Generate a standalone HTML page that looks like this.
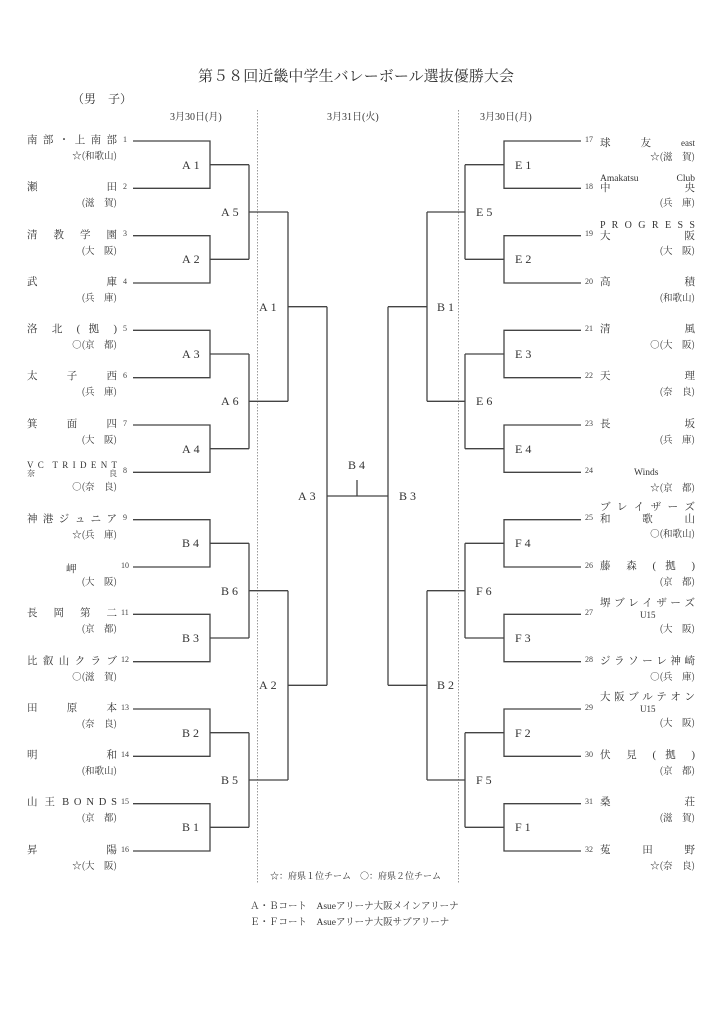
<!DOCTYPE html>
<html><head><meta charset="utf-8">
<style>
body{margin:0;background:#fff;}
#p{position:relative;width:724px;height:1024px;overflow:hidden;background:#fff;font-family:"Liberation Serif","Noto Serif CJK SC",serif;color:#333;}
.a{position:absolute;white-space:nowrap;}
.n{position:absolute;font-size:10.5px;line-height:12px;text-align:justify;text-align-last:justify;color:#333;}
.L{left:27px;width:90px;}
.R{left:600px;width:95px;}
.f{position:absolute;font-size:9.5px;line-height:12px;text-align:right;white-space:nowrap;color:#333;font-family:"Noto Serif CJK SC",serif;}
.fL{left:27px;width:90px;}
.fR{left:600px;width:95px;}
.num{position:absolute;font-size:8px;line-height:9px;color:#444;}
.lb{position:absolute;font-size:12px;line-height:14px;white-space:nowrap;color:#333;letter-spacing:3px;}
</style></head><body><div id="p">
<svg width="724" height="1024" style="position:absolute;left:0;top:0">
<g stroke="#999" stroke-width="1" stroke-dasharray="1.5,1.5"><line x1="257.5" y1="110" x2="257.5" y2="884"/><line x1="458.5" y1="110" x2="458.5" y2="884"/></g>
<path fill="none" stroke="#444" stroke-width="1.3" d="
M133 141H210V188.3H133 M210 164.7H249
M133 235.7H210V283H133 M210 259.3H249
M133 330.3H210V377.7H133 M210 354H249
M133 425H210V472.3H133 M210 448.7H249
M133 519.7H210V567H133 M210 543.3H249
M133 614.3H210V661.7H133 M210 638H249
M133 709H210V756.3H133 M210 732.7H249
M133 803.7H210V851H133 M210 827.3H249
M249 164.7V259.3 M249 212H288
M249 354V448.7 M249 401.3H288
M249 543.3V638 M249 590.7H288
M249 732.7V827.3 M249 780H288
M288 212V401.3 M288 306.7H327
M288 590.7V780 M288 685.3H327
M327 306.7V685.3 M327 496H388 M357 480V496
M581 141H504V188.3H581 M504 164.7H465
M581 235.7H504V283H581 M504 259.3H465
M581 330.3H504V377.7H581 M504 354H465
M581 425H504V472.3H581 M504 448.7H465
M581 519.7H504V567H581 M504 543.3H465
M581 614.3H504V661.7H581 M504 638H465
M581 709H504V756.3H581 M504 732.7H465
M581 803.7H504V851H581 M504 827.3H465
M465 164.7V259.3 M465 212H427
M465 354V448.7 M465 401.3H427
M465 543.3V638 M465 590.7H427
M465 732.7V827.3 M465 780H427
M427 212V401.3 M427 306.7H388
M427 590.7V780 M427 685.3H388
M388 306.7V685.3"/>
</svg>

<div class="a" style="left:198px;top:65px;font-size:15px;letter-spacing:0px;width:316px;text-align:justify;text-align-last:justify;">第５８回近畿中学生バレーボール選抜優勝大会</div>
<div class="a" style="left:72px;top:90px;font-size:12px;">（男　子）</div>
<div class="a" style="left:170px;top:108px;font-size:10px;">3月30日(月)</div>
<div class="a" style="left:327px;top:108px;font-size:10px;">3月31日(火)</div>
<div class="a" style="left:480px;top:108px;font-size:10px;">3月30日(月)</div>

<div class="n L" style="top:135px">南 部 ・ 上 南 部</div><div class="f fL" style="top:149px">☆(和歌山)</div>
<div class="n L" style="top:182px">瀬 田</div><div class="f fL" style="top:196px">(滋　賀)</div>
<div class="n L" style="top:230px">清 教 学 園</div><div class="f fL" style="top:244px">(大　阪)</div>
<div class="n L" style="top:277px">武 庫</div><div class="f fL" style="top:291px">(兵　庫)</div>
<div class="n L" style="top:324px">洛 北 ( 拠 )</div><div class="f fL" style="top:338px">○(京　都)</div>
<div class="n L" style="top:371px">太 子 西</div><div class="f fL" style="top:385px">(兵　庫)</div>
<div class="n L" style="top:419px">箕 面 四</div><div class="f fL" style="top:433px">(大　阪)</div>
<div class="n L" style="top:459px;font-size:9px;">V C &nbsp;T R I D E N T</div><div class="n L" style="top:468px;font-size:8px;">奈 良</div><div class="f fL" style="top:480px">○(奈　良)</div>
<div class="n L" style="top:514px">神 港 ジ ュ ニ ア</div><div class="f fL" style="top:528px">☆(兵　庫)</div>
<div class="a" style="left:66px;top:561px;font-size:10.5px;">岬</div><div class="f fL" style="top:575px">(大　阪)</div>
<div class="n L" style="top:608px">長 岡 第 二</div><div class="f fL" style="top:622px">(京　都)</div>
<div class="n L" style="top:656px">比 叡 山 ク ラ ブ</div><div class="f fL" style="top:670px">○(滋　賀)</div>
<div class="n L" style="top:703px">田 原 本</div><div class="f fL" style="top:717px">(奈　良)</div>
<div class="n L" style="top:750px">明 和</div><div class="f fL" style="top:764px">(和歌山)</div>
<div class="n L" style="top:797px">山 王 B O N D S</div><div class="f fL" style="top:811px">(京　都)</div>
<div class="n L" style="top:845px">昇 陽</div><div class="f fL" style="top:859px">☆(大　阪)</div>

<div class="num" style="left:123px;top:135px">1</div>
<div class="num" style="left:123px;top:182px">2</div>
<div class="num" style="left:123px;top:229px">3</div>
<div class="num" style="left:123px;top:277px">4</div>
<div class="num" style="left:123px;top:324px">5</div>
<div class="num" style="left:123px;top:371px">6</div>
<div class="num" style="left:123px;top:419px">7</div>
<div class="num" style="left:123px;top:466px">8</div>
<div class="num" style="left:123px;top:513px">9</div>
<div class="num" style="left:121px;top:561px">10</div>
<div class="num" style="left:121px;top:608px">11</div>
<div class="num" style="left:121px;top:655px">12</div>
<div class="num" style="left:121px;top:703px">13</div>
<div class="num" style="left:121px;top:750px">14</div>
<div class="num" style="left:121px;top:797px">15</div>
<div class="num" style="left:121px;top:845px">16</div>

<div class="num" style="left:585px;top:135px">17</div>
<div class="num" style="left:585px;top:182px">18</div>
<div class="num" style="left:585px;top:229px">19</div>
<div class="num" style="left:585px;top:277px">20</div>
<div class="num" style="left:585px;top:324px">21</div>
<div class="num" style="left:585px;top:371px">22</div>
<div class="num" style="left:585px;top:419px">23</div>
<div class="num" style="left:585px;top:466px">24</div>
<div class="num" style="left:585px;top:513px">25</div>
<div class="num" style="left:585px;top:561px">26</div>
<div class="num" style="left:585px;top:608px">27</div>
<div class="num" style="left:585px;top:655px">28</div>
<div class="num" style="left:585px;top:703px">29</div>
<div class="num" style="left:585px;top:750px">30</div>
<div class="num" style="left:585px;top:797px">31</div>
<div class="num" style="left:585px;top:845px">32</div>

<div class="n R" style="top:137px">球 友 <span style="font-size:9px">east</span></div><div class="f fR" style="top:150px">☆(滋　賀)</div>
<div class="n R" style="top:173px;font-size:9.5px;">Amakatsu Club</div><div class="n R" style="top:183px">中 央</div><div class="f fR" style="top:196px">(兵　庫)</div>
<div class="n R" style="top:220px;font-size:10px;">P R O G R E S S</div><div class="n R" style="top:231px">大 阪</div><div class="f fR" style="top:244px">(大　阪)</div>
<div class="n R" style="top:277px">高 積</div><div class="f fR" style="top:291px">(和歌山)</div>
<div class="n R" style="top:324px">清 風</div><div class="f fR" style="top:338px">○(大　阪)</div>
<div class="n R" style="top:371px">天 理</div><div class="f fR" style="top:385px">(奈　良)</div>
<div class="n R" style="top:419px">長 坂</div><div class="f fR" style="top:433px">(兵　庫)</div>
<div class="a" style="left:634px;top:468px;font-size:9.5px;">Winds</div><div class="f fR" style="top:481px">☆(京　都)</div>
<div class="n R" style="top:502px">ブ レ イ ザ ー ズ</div><div class="n R" style="top:514px">和 歌 山</div><div class="f fR" style="top:527px">○(和歌山)</div>
<div class="n R" style="top:561px">藤 森 ( 拠 )</div><div class="f fR" style="top:575px">(京　都)</div>
<div class="n R" style="top:598px">堺 ブ レ イ ザ ー ズ</div><div class="a" style="left:640px;top:610px;font-size:9px;">U15</div><div class="f fR" style="top:622px">(大　阪)</div>
<div class="n R" style="top:656px">ジ ラ ソ ー レ 神 崎</div><div class="f fR" style="top:670px">○(兵　庫)</div>
<div class="n R" style="top:692px">大 阪 ブ ル テ オ ン</div><div class="a" style="left:640px;top:704px;font-size:9px;">U15</div><div class="f fR" style="top:716px">(大　阪)</div>
<div class="n R" style="top:750px">伏 見 ( 拠 )</div><div class="f fR" style="top:764px">(京　都)</div>
<div class="n R" style="top:797px">桑 荘</div><div class="f fR" style="top:811px">(滋　賀)</div>
<div class="n R" style="top:845px">菟 田 野</div><div class="f fR" style="top:859px">☆(奈　良)</div>

<div class="lb" style="left:182px;top:158px">A1</div>
<div class="lb" style="left:182px;top:252px">A2</div>
<div class="lb" style="left:182px;top:347px">A3</div>
<div class="lb" style="left:182px;top:442px">A4</div>
<div class="lb" style="left:182px;top:536px">B4</div>
<div class="lb" style="left:182px;top:631px">B3</div>
<div class="lb" style="left:182px;top:726px">B2</div>
<div class="lb" style="left:182px;top:820px">B1</div>
<div class="lb" style="left:221px;top:205px">A5</div>
<div class="lb" style="left:221px;top:394px">A6</div>
<div class="lb" style="left:221px;top:584px">B6</div>
<div class="lb" style="left:221px;top:773px">B5</div>
<div class="lb" style="left:259px;top:300px">A1</div>
<div class="lb" style="left:259px;top:678px">A2</div>
<div class="lb" style="left:298px;top:489px">A3</div>
<div class="lb" style="left:348px;top:458px">B4</div>
<div class="lb" style="left:399px;top:489px">B3</div>
<div class="lb" style="left:515px;top:158px">E1</div>
<div class="lb" style="left:515px;top:252px">E2</div>
<div class="lb" style="left:515px;top:347px">E3</div>
<div class="lb" style="left:515px;top:442px">E4</div>
<div class="lb" style="left:515px;top:536px">F4</div>
<div class="lb" style="left:515px;top:631px">F3</div>
<div class="lb" style="left:515px;top:726px">F2</div>
<div class="lb" style="left:515px;top:820px">F1</div>
<div class="lb" style="left:476px;top:205px">E5</div>
<div class="lb" style="left:476px;top:394px">E6</div>
<div class="lb" style="left:476px;top:584px">F6</div>
<div class="lb" style="left:476px;top:773px">F5</div>
<div class="lb" style="left:437px;top:300px">B1</div>
<div class="lb" style="left:437px;top:678px">B2</div>

<div class="a" style="left:270px;top:869px;font-size:9px;font-family:'Noto Serif CJK SC',serif;">☆：府県１位チーム　○：府県２位チーム</div>
<div class="a" style="left:250px;top:898px;font-size:9.5px;">Ａ・Ｂコート　Asueアリーナ大阪メインアリーナ</div>
<div class="a" style="left:250px;top:914px;font-size:9.5px;">Ｅ・Ｆコート　Asueアリーナ大阪サブアリーナ</div>
</div></body></html>
